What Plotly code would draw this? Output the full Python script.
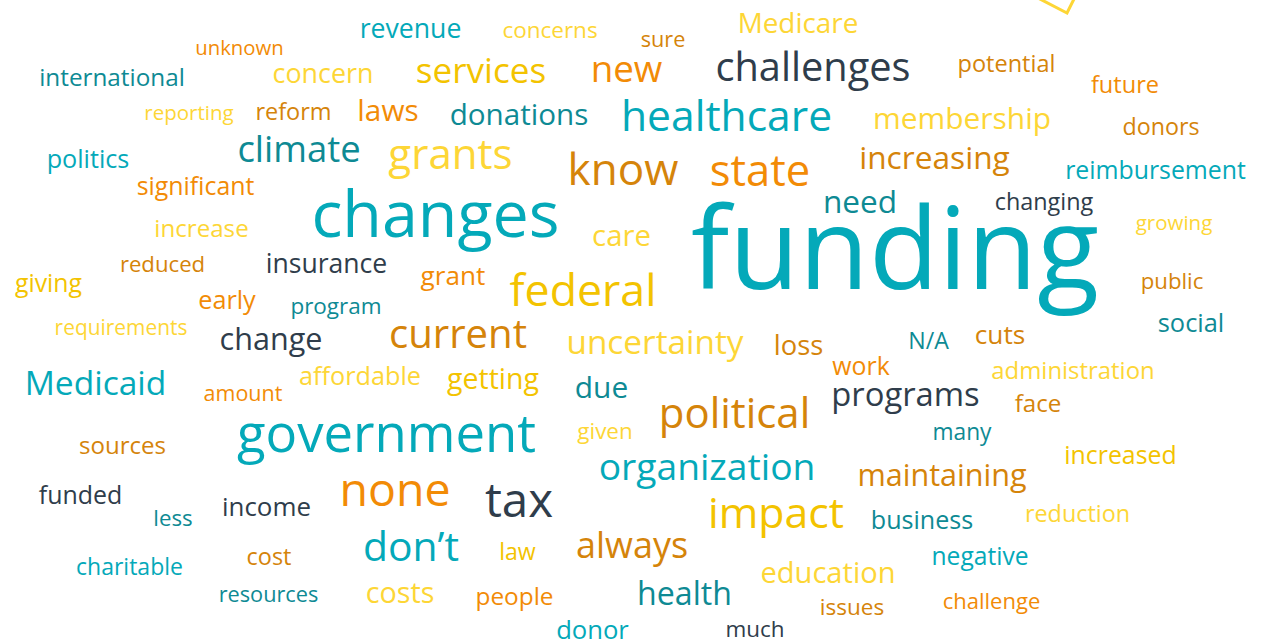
import plotly.graph_objects as go

# words of the cloud, in drawing order
words = [
    "funding", "changes", "government", "healthcare", "challenges", "know", "state", "grants", "federal", "climate",
    "current", "none", "tax", "impact", "political", "don’t", "organization", "uncertainty", "maintaining", "increasing",
    "membership", "services", "new", "Medicaid", "always", "health", "education", "programs", "donations", "need",
    "laws", "change", "Medicare", "concern", "revenue", "reimbursement", "insurance", "international", "potential", "future",
    "donors", "politics", "significant", "reform", "reporting", "unknown", "concerns", "sure", "changing", "increase",
    "care", "growing", "reduced", "giving", "grant", "early", "program", "public", "requirements", "N/A",
    "cuts", "social", "loss", "work", "administration", "amount", "affordable", "getting", "due", "face",
    "sources", "given", "many", "increased", "funded", "less", "income", "business", "reduction", "law",
    "cost", "charitable", "negative", "resources", "costs", "people", "issues", "challenge", "donor", "much",
]

# colour group of each word
tone = [
    "T", "T", "T", "T", "S", "B", "O", "L", "Y", "D",
    "B", "O", "S", "Y", "B", "T", "T", "L", "B", "B",
    "L", "Y", "O", "T", "B", "D", "L", "S", "D", "D",
    "O", "S", "L", "L", "T", "T", "S", "D", "B", "O",
    "B", "T", "O", "B", "L", "O", "L", "B", "S", "L",
    "L", "L", "B", "Y", "O", "O", "D", "B", "L", "D",
    "B", "D", "B", "O", "L", "O", "L", "Y", "D", "B",
    "B", "L", "D", "Y", "S", "D", "S", "D", "L", "Y",
    "B", "T", "T", "D", "L", "O", "B", "O", "T", "S",
]

# placement (pixels): left edge, right edge, baseline
x_left = [
    672, 300, 222, 611, 706, 563, 706, 383, 503, 232,
    383, 335, 483, 702, 652, 357, 588, 558, 849, 852,
    864, 410, 588, 18, 571, 633, 754, 824, 443, 820,
    355, 215, 732, 268, 355, 1056, 260, 32, 953, 1088,
    1119, 43, 131, 252, 140, 191, 498, 639, 990, 150,
    590, 1132, 116, 12, 418, 196, 286, 1138, 48, 907,
    973, 1155, 772, 830, 983, 200, 293, 443, 573, 1013,
    75, 575, 930, 1059, 35, 152, 218, 866, 1020, 498,
    245, 71, 927, 214, 363, 472, 817, 938, 553, 723,
]
x_right = [
    1118, 571, 551, 842, 920, 683, 814, 518, 663, 366,
    533, 455, 555, 850, 817, 465, 826, 752, 1035, 1017,
    1060, 552, 665, 173, 693, 736, 902, 987, 595, 900,
    421, 327, 864, 378, 466, 1255, 393, 192, 1060, 1162,
    1203, 133, 260, 335, 238, 288, 602, 687, 1098, 253,
    653, 1216, 209, 85, 488, 258, 386, 1206, 194, 950,
    1027, 1227, 825, 892, 1163, 286, 427, 543, 630, 1063,
    170, 635, 994, 1182, 126, 194, 315, 978, 1135, 537,
    293, 188, 1033, 323, 437, 557, 887, 1045, 632, 787,
]
baseline = [
    292, 237, 452, 130, 80, 184, 185, 168, 305, 161,
    347, 505, 516, 527, 427, 560, 479, 353, 485, 168,
    127, 82, 81, 394, 557, 604, 581, 405, 123, 212,
    120, 349, 31, 81, 36, 177, 271, 84, 70, 91,
    133, 166, 193, 118, 118, 53, 36, 45, 208, 235,
    244, 228, 270, 290, 283, 307, 312, 287, 333, 347,
    342, 330, 353, 373, 377, 399, 383, 387, 397, 410,
    452, 437, 438, 462, 502, 524, 514, 527, 520, 558,
    563, 573, 563, 600, 601, 603, 613, 607, 637, 635,
]

palette = {
    "T": "#04a9b9",  # teal
    "D": "#0e8a94",  # dark teal
    "S": "#2f3d4b",  # slate
    "O": "#f28b06",  # orange
    "B": "#d5840a",  # amber
    "Y": "#f3c300",  # yellow
    "L": "#fdd636",  # light yellow
}

# approximate Open Sans advance widths (em) to turn a pixel span into a font size
ADV = {
    "a": .556, "b": .613, "c": .476, "d": .613, "e": .561, "f": .339, "g": .548, "h": .614,
    "i": .253, "j": .253, "k": .525, "l": .253, "m": .930, "n": .614, "o": .604, "p": .613,
    "q": .613, "r": .408, "s": .477, "t": .353, "u": .614, "v": .501, "w": .778, "x": .524,
    "y": .502, "z": .460, "M": .903, "N": .744, "A": .633, "/": .364, "’": .266,
}
SHRINK = 0.90  # Open Sans is taller than the rounded original at equal width

sizes, xs, ys = [], [], []
for w, a, b, base in zip(words, x_left, x_right, baseline):
    em = sum(ADV.get(ch, .55) for ch in w) - 0.07
    s = (b - a) / em * SHRINK
    sizes.append(s)
    xs.append((a + b) / 2)
    ys.append(base - 0.30 * s + 3)

fig = go.Figure()

# corner of a yellow outline peeking in at the top right
fig.add_trace(go.Scatter(x=[1036, 1067, 1075], y=[-3, 13, -3], mode="lines",
                         line=dict(color="#fdd636", width=3), hoverinfo="skip"))

fig.add_trace(go.Scatter(
    x=xs, y=ys, mode="text", text=words, textposition="middle center",
    textfont=dict(family="Open Sans", size=sizes, color=[palette[t] for t in tone]),
    hoverinfo="text",
))

fig.update_layout(
    width=1274, height=640,
    margin=dict(l=0, r=0, t=0, b=0),
    paper_bgcolor="white", plot_bgcolor="white",
    showlegend=False,
    xaxis=dict(range=[0, 1274], visible=False, fixedrange=True),
    yaxis=dict(range=[640, 0], visible=False, fixedrange=True),
)

# drop the default 8px page margin so the figure sits at the window corner
fig.write_html("out.html", config={"displayModeBar": False},
               post_script="document.body.style.margin = '0';")
